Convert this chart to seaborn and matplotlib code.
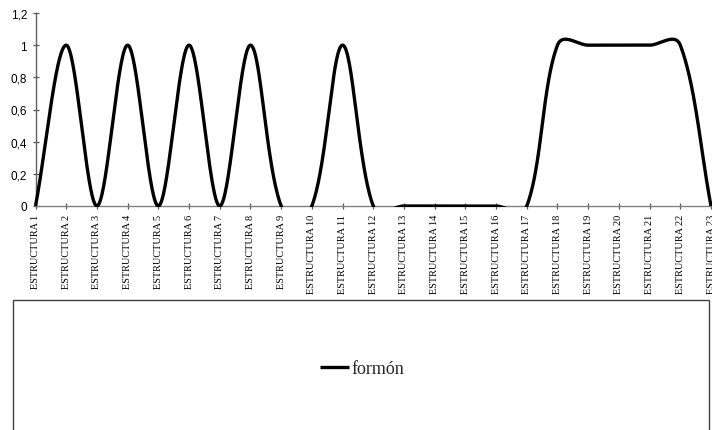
import numpy as np
import pandas as pd
import matplotlib
matplotlib.use("Agg")
import matplotlib.pyplot as plt
from matplotlib.patches import Rectangle
from matplotlib.transforms import Bbox, TransformedBbox
import seaborn as sns

# --- data -------------------------------------------------------------
categories = [
    "ESTRUCTURA 1", "ESTRUCTURA 2", "ESTRUCTURA 3", "ESTRUCTURA 4",
    "ESTRUCTURA 5", "ESTRUCTURA 6", "ESTRUCTURA 7", "ESTRUCTURA 8",
    "ESTRUCTURA 9", "ESTRUCTURA 10", "ESTRUCTURA 11", "ESTRUCTURA 12",
    "ESTRUCTURA 13", "ESTRUCTURA 14", "ESTRUCTURA 15", "ESTRUCTURA 16",
    "ESTRUCTURA 17", "ESTRUCTURA 18", "ESTRUCTURA 19", "ESTRUCTURA 20",
    "ESTRUCTURA 21", "ESTRUCTURA 22", "ESTRUCTURA 23",
]
formon = [0, 1, 0, 1, 0, 1, 0, 1, 0, 0, 1, 0,
          0, 0, 0, 0, 0, 1, 1, 1, 1, 1, 0]
series_name = "formón"
y_ticks = [0, 0.2, 0.4, 0.6, 0.8, 1, 1.2]

# --- smoothed line (spreadsheet-style Bezier smoothing) -----------------
SMOOTH_ASPECT = 2.83  # relative weight of y vs x when measuring segment lengths


def smooth_curve(xs, ys, n=60):
    pts = np.column_stack([np.asarray(xs, float), np.asarray(ys, float)])
    scale = np.array([1.0, SMOOTH_ASPECT])
    out = []
    m = len(pts)
    for i in range(m - 1):
        p0 = pts[max(i - 1, 0)]
        p1 = pts[i]
        p2 = pts[i + 1]
        p3 = pts[min(i + 2, m - 1)]
        d01 = np.linalg.norm((p1 - p0) * scale)
        d12 = np.linalg.norm((p2 - p1) * scale)
        d23 = np.linalg.norm((p3 - p2) * scale)
        f1 = d12 / (d01 + d12) / 3 if d01 + d12 > 0 else 0
        f2 = d12 / (d12 + d23) / 3 if d12 + d23 > 0 else 0
        b1 = p1 + (p2 - p0) * f1
        b2 = p2 - (p3 - p1) * f2
        t = np.linspace(0, 1, n)[:, None]
        seg = ((1 - t) ** 3) * p1 + 3 * ((1 - t) ** 2) * t * b1 \
            + 3 * (1 - t) * t ** 2 * b2 + t ** 3 * p2
        out.append(seg if i == 0 else seg[1:])
    return np.vstack(out)


pos = np.arange(len(categories))
curve = smooth_curve(pos, formon)
df = pd.DataFrame({"x": curve[:, 0], "y": curve[:, 1]})

# --- figure -----------------------------------------------------------
sns.set_theme(style="white")
plt.rcParams["font.family"] = ["Liberation Sans", "DejaVu Sans"]

W, H = 712, 431
fig = plt.figure(figsize=(W / 100, H / 100), dpi=100)
ax = fig.add_axes([35.5 / W, (H - 207) / H, (711 - 35.5) / W, (207 - 14) / H])

sns.lineplot(data=df, x="x", y="y", sort=False, estimator=None,
             color="black", linewidth=2.4, ax=ax, legend=False)
line = ax.lines[-1]
line.set_label(series_name)
line.set_solid_capstyle("butt")
line.set_zorder(3)
line.set_clip_box(TransformedBbox(Bbox([[-0.2, -0.006], [22.2, 1.3]]), ax.transData))

ax.set_xlim(0, len(categories) - 1)
ax.set_ylim(0, 1.2)
ax.set_xlabel("")
ax.set_ylabel("")

ax.set_yticks(y_ticks)
ax.set_yticklabels([("%g" % v).replace(".", ",") for v in y_ticks],
                   fontsize=8.5, family=["Liberation Sans"])
ax.set_xticks(pos)
ax.set_xticklabels(categories, rotation=90, fontsize=7.4,
                   family=["Liberation Serif"], va="top", ha="center")

for side in ("top", "right"):
    ax.spines[side].set_visible(False)
ax.spines["left"].set_color("#606060")
ax.spines["bottom"].set_color("#808080")
for side in ("left", "bottom"):
    ax.spines[side].set_linewidth(1.0)
    ax.spines[side].set_zorder(2)

ax.tick_params(axis="both", direction="inout", length=5, width=0.9,
               color="#555555", labelcolor="black")
ax.tick_params(axis="y", pad=3.5, left=True)
ax.tick_params(axis="x", pad=3, bottom=True)
ax.grid(False)
ax.patch.set_alpha(0)

# legend box along the bottom
fig.add_artist(Rectangle((13 / W, -0.1), (709 - 13) / W, (H - 301) / H + 0.1,
                         transform=fig.transFigure, fill=False,
                         edgecolor="#404040", linewidth=1.0))
ax.legend(handles=[line], labels=[series_name], loc="center",
          bbox_to_anchor=(362 / W, (H - 370) / H), bbox_transform=fig.transFigure,
          frameon=False, handlelength=1.6, handletextpad=0.12,
          prop={"family": "Liberation Serif", "size": 13})

fig.savefig("out.png", dpi=100)
